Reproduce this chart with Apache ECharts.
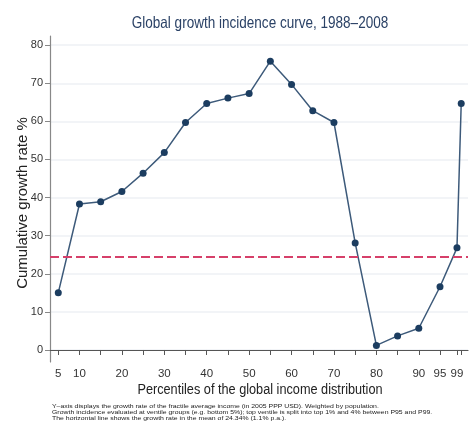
<!DOCTYPE html>
<html>
<head>
<meta charset="utf-8">
<script src="https://cdn.jsdelivr.net/npm/echarts@6/dist/echarts.min.js"></script>
<style>
html,body{margin:0;padding:0;background:#fff;}
#chart{width:470px;height:433px;}
</style>
</head>
<body>
<div id="chart"></div>
<script>
var percentiles = [5, 10, 15, 20, 25, 30, 35, 40, 45, 50, 55, 60, 65, 70, 75, 80, 85, 90, 95, 99, 100];
var growthRate = [15.0, 38.3, 38.9, 41.6, 46.4, 51.8, 59.7, 64.7, 66.1, 67.3, 75.8, 69.7, 62.8, 59.7, 28.1, 1.2, 3.7, 5.7, 16.6, 26.8, 64.7];
var meanGrowth = 24.34;
var xTickValues = [5, 10, 15, 20, 25, 30, 35, 40, 45, 50, 55, 60, 65, 70, 75, 80, 85, 90, 95, 99, 100];
var xLabelValues = [5, 10, 20, 30, 40, 50, 60, 70, 80, 90, 95, 99];
var yTickValues = [0, 10, 20, 30, 40, 50, 60, 70, 80];
var titleText = 'Global growth incidence curve, 1988\u20132008';
var xAxisTitle = 'Percentiles of the global income distribution';
var yAxisTitle = 'Cumulative growth rate %';
var notes = [
  'Y\u2013axis displays the growth rate of the fractile average income (in 2005 PPP USD). Weighted by population.',
  'Growth incidence evaluated at ventile groups (e.g. bottom 5%); top ventile is split into top 1% and 4% between P95 and P99.',
  'The horizontal line shows the growth rate in the mean of 24.34% (1.1% p.a.).'
];

var FONT = '"Liberation Sans", Arial, sans-serif';
var chart = echarts.init(document.getElementById('chart'), null, {renderer: 'canvas'});
var data = percentiles.map(function (p, i) { return [p, growthRate[i]]; });

var graphics = [
  {type: 'text', x: 260, y: 23, scaleX: 0.82,
   style: {text: titleText, font: '16.5px ' + FONT, fill: '#2b4266', textAlign: 'center', textVerticalAlign: 'middle'}},
  {type: 'text', x: 260, y: 390, scaleX: 0.82,
   style: {text: xAxisTitle, font: '15.5px ' + FONT, fill: '#222', textAlign: 'center', textVerticalAlign: 'middle'}},
  {type: 'text', x: 23, y: 203, rotation: Math.PI / 2,
   style: {text: yAxisTitle, font: '15px ' + FONT, fill: '#222', textAlign: 'center', textVerticalAlign: 'middle'}}
];
notes.forEach(function (t, i) {
  graphics.push({type: 'text', x: 52, y: 406.5 + i * 6, scaleX: 0.985, scaleY: 0.85,
    style: {text: t, font: '7px ' + FONT, fill: '#1a1a1a', textAlign: 'left', textVerticalAlign: 'middle'}});
});

chart.setOption({
  animation: false,
  backgroundColor: '#ffffff',
  grid: {left: 50, right: 2, top: 36, bottom: 71, containLabel: false},
  xAxis: {
    type: 'value',
    min: 3.05,
    max: 101.6,
    axisLine: {show: true, lineStyle: {color: '#555', width: 1.2}},
    axisTick: {show: true, length: 5, customValues: xTickValues, lineStyle: {color: '#555'}},
    axisLabel: {customValues: xLabelValues, fontFamily: FONT, fontSize: 11.5, color: '#333', margin: 6},
    splitLine: {show: false}
  },
  yAxis: {
    type: 'value',
    min: -3.15,
    max: 82.4,
    axisLine: {show: true, lineStyle: {color: '#888', width: 1.2}},
    axisTick: {show: true, length: 5, customValues: yTickValues, lineStyle: {color: '#888'}},
    axisLabel: {customValues: yTickValues, fontFamily: FONT, fontSize: 11, color: '#333', margin: 7},
    splitLine: {show: true, lineStyle: {color: '#eef1f4', width: 1.5}}
  },
  series: [{
    type: 'line',
    data: data,
    symbol: 'circle',
    symbolSize: 7,
    lineStyle: {color: '#3d5a7a', width: 1.5},
    itemStyle: {color: '#1c3d60'},
    markLine: {
      silent: true,
      symbol: ['none', 'none'],
      label: {show: false},
      lineStyle: {color: '#d6406a', type: [9, 4], width: 2},
      data: [{yAxis: meanGrowth}]
    }
  }],
  graphic: graphics
});
</script>
</body>
</html>
